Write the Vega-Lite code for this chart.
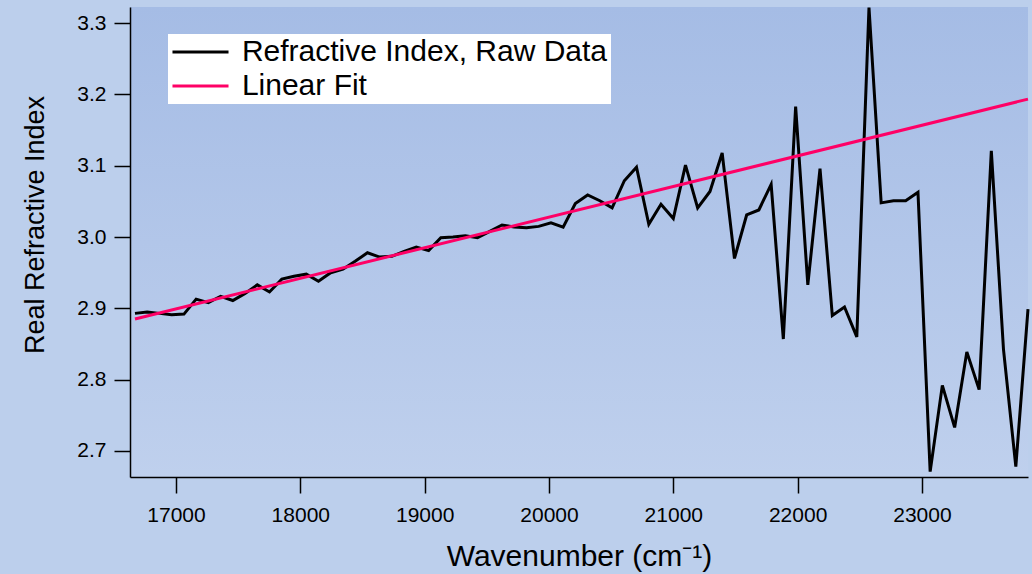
{
  "$schema": "https://vega.github.io/schema/vega-lite/v6.json",
  "width": 898,
  "height": 470,
  "autosize": {"type": "none"},
  "padding": {"left": 130, "top": 7, "right": 4, "bottom": 97},
  "background": "#bccfec",
  "config": {
    "view": {"stroke": null, "fill": {"gradient": "linear", "x1": 0, "y1": 0, "x2": 0, "y2": 1, "stops": [{"offset": 0, "color": "#a5bce5"}, {"offset": 1, "color": "#bfd0ed"}]}},
    "font": "Liberation Sans",
    "axis": {"domainColor": "black", "domainWidth": 1.5, "tickColor": "black", "tickWidth": 1.5, "tickSize": 16, "labelFontSize": 21, "labelColor": "black", "titleFontSize": 30, "titleFontWeight": "normal", "titleColor": "black", "grid": false, "labelFont": "Liberation Sans", "titleFont": "Liberation Sans"},
    "axisX": {"labelPadding": 11, "titlePadding": 16, "labelFlush": false},
    "axisY": {"labelPadding": 8, "titlePadding": 27, "titleFontSize": 27, "titleY": 217.5}
  },
  "datasets": {
    "raw": [
      {"w": 16670, "n": 2.893}, {"w": 16768, "n": 2.895}, {"w": 16867, "n": 2.893}, {"w": 16965, "n": 2.891},
      {"w": 17064, "n": 2.892}, {"w": 17162, "n": 2.913}, {"w": 17260, "n": 2.908}, {"w": 17359, "n": 2.917},
      {"w": 17457, "n": 2.911}, {"w": 17556, "n": 2.921}, {"w": 17654, "n": 2.933}, {"w": 17752, "n": 2.923},
      {"w": 17851, "n": 2.941}, {"w": 17949, "n": 2.945}, {"w": 18048, "n": 2.948}, {"w": 18146, "n": 2.938},
      {"w": 18244, "n": 2.950}, {"w": 18343, "n": 2.955}, {"w": 18441, "n": 2.966}, {"w": 18540, "n": 2.978},
      {"w": 18638, "n": 2.972}, {"w": 18736, "n": 2.973}, {"w": 18835, "n": 2.980}, {"w": 18933, "n": 2.986},
      {"w": 19032, "n": 2.981}, {"w": 19130, "n": 2.999}, {"w": 19228, "n": 3.000}, {"w": 19327, "n": 3.002},
      {"w": 19425, "n": 2.999}, {"w": 19524, "n": 3.008}, {"w": 19622, "n": 3.017}, {"w": 19720, "n": 3.014},
      {"w": 19819, "n": 3.013}, {"w": 19917, "n": 3.015}, {"w": 20016, "n": 3.020}, {"w": 20114, "n": 3.014},
      {"w": 20212, "n": 3.047}, {"w": 20311, "n": 3.059}, {"w": 20409, "n": 3.051}, {"w": 20508, "n": 3.041},
      {"w": 20606, "n": 3.079}, {"w": 20704, "n": 3.098}, {"w": 20803, "n": 3.018}, {"w": 20901, "n": 3.046},
      {"w": 21000, "n": 3.026}, {"w": 21098, "n": 3.101}, {"w": 21196, "n": 3.041}, {"w": 21295, "n": 3.064},
      {"w": 21393, "n": 3.118}, {"w": 21492, "n": 2.970}, {"w": 21590, "n": 3.031}, {"w": 21688, "n": 3.038},
      {"w": 21787, "n": 3.074}, {"w": 21885, "n": 2.857}, {"w": 21984, "n": 3.183}, {"w": 22082, "n": 2.933},
      {"w": 22180, "n": 3.096}, {"w": 22279, "n": 2.890}, {"w": 22377, "n": 2.902}, {"w": 22476, "n": 2.860},
      {"w": 22574, "n": 3.322}, {"w": 22672, "n": 3.048}, {"w": 22771, "n": 3.051}, {"w": 22869, "n": 3.051},
      {"w": 22968, "n": 3.063}, {"w": 23066, "n": 2.671}, {"w": 23164, "n": 2.792}, {"w": 23263, "n": 2.733},
      {"w": 23361, "n": 2.839}, {"w": 23460, "n": 2.786}, {"w": 23558, "n": 3.121}, {"w": 23656, "n": 2.842},
      {"w": 23755, "n": 2.678}, {"w": 23853, "n": 2.899}
    ],
    "fit": [
      {"w": 16670, "n": 2.885}, {"w": 23853, "n": 3.1935}
    ]
  },
  "encoding": {
    "x": {"field": "w", "type": "quantitative", "scale": {"domain": [16630, 23853], "nice": false, "zero": false},
          "axis": {"title": "Wavenumber (cm⁻¹)", "values": [17000, 18000, 19000, 20000, 21000, 22000, 23000], "format": "d"}},
    "y": {"field": "n", "type": "quantitative", "scale": {"domain": [2.6635, 3.3227], "nice": false, "zero": false},
          "axis": {"title": "Real Refractive Index", "values": [2.7, 2.8, 2.9, 3.0, 3.1, 3.2, 3.3], "format": ".1f"}}
  },
  "layer": [
    {
      "data": {"name": "raw"},
      "transform": [{"calculate": "'Refractive Index, Raw Data'", "as": "series"}],
      "mark": {"type": "line", "strokeWidth": 3, "strokeJoin": "miter"},
      "encoding": {
        "color": {"field": "series", "type": "nominal",
          "scale": {"domain": ["Refractive Index, Raw Data", "Linear Fit"], "range": ["black", "#ff0066"]},
          "legend": {"title": null, "orient": "none", "legendX": 38, "legendY": 27, "fillColor": "white", "padding": 3,
                     "symbolType": "M-3,0H3", "symbolSize": 349, "symbolStrokeWidth": 3, "symbolOffset": 14.5,
                     "labelFontSize": 30, "labelOffset": 26.4, "labelLimit": 0, "labelColor": "black", "rowPadding": 4, "labelFont": "Liberation Sans"}}
      }
    },
    {
      "data": {"name": "fit"},
      "transform": [{"calculate": "'Linear Fit'", "as": "series"}],
      "mark": {"type": "line", "strokeWidth": 3},
      "encoding": {"color": {"field": "series", "type": "nominal"}}
    }
  ]
}
